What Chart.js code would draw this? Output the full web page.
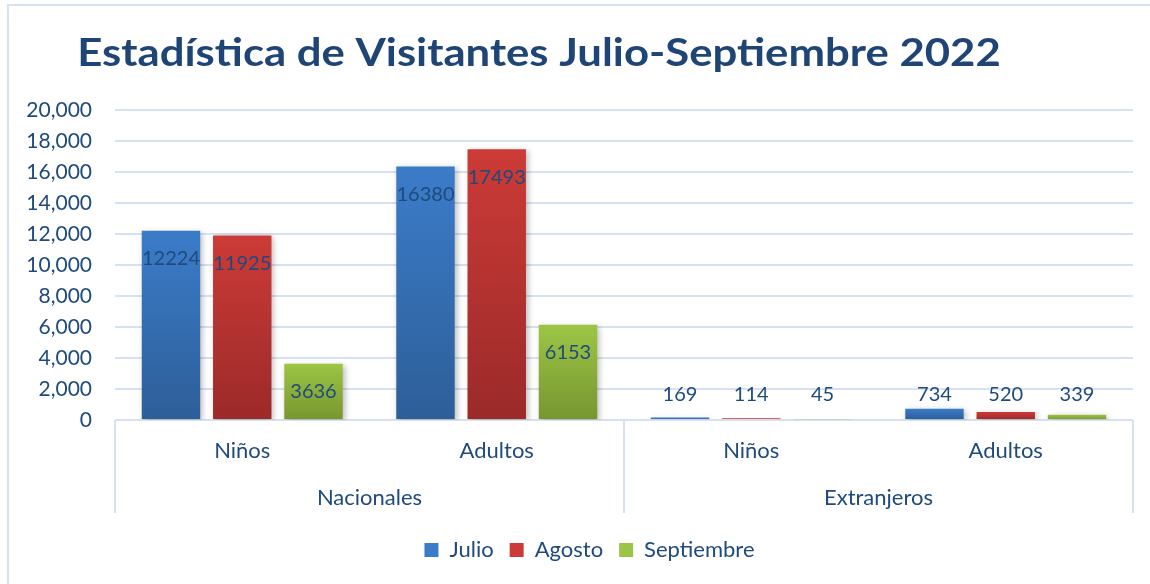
<!DOCTYPE html>
<html>
<head>
<meta charset="utf-8">
<script src="https://cdn.jsdelivr.net/npm/chart.js@4.4.1/dist/chart.umd.min.js"></script>
<style>
  html, body { margin: 0; padding: 0; background: #fff; }
  #wrap { width: 1150px; height: 584px; position: relative; }
</style>
</head>
<body>
<div id="wrap"><canvas id="visitChart" width="1150" height="584"></canvas></div>
<script>
const categories = ['Niños', 'Adultos', 'Niños', 'Adultos'];
const groups = ['Nacionales', 'Nacionales', 'Extranjeros', 'Extranjeros'];
const julio = [12224, 16380, 169, 734];
const agosto = [11925, 17493, 114, 520];
const septiembre = [3636, 6153, 45, 339];
const titleText = 'Estadística de Visitantes Julio-Septiembre 2022';

const textColor = '#1f4a7c';
const lineColor = '#d6e1f1';
const FONT = 'Lato';

// top / bottom colours of each bar gradient
const palette = {
    Julio: ['#3b7cc9', '#2d5e98'],
    Agosto: ['#cc3b37', '#9b2a29'],
    Septiembre: ['#9cc545', '#76962f']
};

function barFill(name) {
    return ctx => {
        const [top, bottom] = palette[name];
        const chart = ctx.chart;
        if (ctx.type !== 'data' || !chart.chartArea || !chart.scales.y) return top;
        const y = chart.scales.y;
        const y1 = y.getPixelForValue(ctx.raw);
        const y0 = y.getPixelForValue(0);
        if (!isFinite(y1) || !isFinite(y0) || y0 - y1 < 1) return top;
        const g = chart.ctx.createLinearGradient(0, y1, 0, y0);
        g.addColorStop(0, top);
        g.addColorStop(1, bottom);
        return g;
    };
}

const chartFrame = {
    id: 'chartFrame',
    afterLayout(chart) {
        // legend sits a little right of the chart centre, as in the original
        if (chart.legend) {
            chart.legend.left += 18;
            chart.legend.right += 18;
        }
    },
    beforeDraw(chart) {
        const c = chart.ctx;
        c.save();
        c.strokeStyle = lineColor;
        c.lineWidth = 2;
        c.beginPath();
        c.moveTo(8, 584);
        c.lineTo(8, 5);
        c.lineTo(1150, 5);
        c.stroke();
        c.restore();
    }
};

// Calibri-like title: a bit wider than Lato at the same height
const wideTitle = {
    id: 'wideTitle',
    afterDraw(chart) {
        const c = chart.ctx;
        c.save();
        c.font = 'bold 39px ' + FONT;
        c.fillStyle = '#1f4576';
        c.textAlign = 'center';
        c.textBaseline = 'middle';
        c.translate(chart.width / 2 - 36, 53);
        c.scale(1.12, 1);
        c.fillText(titleText, 0, 0);
        c.restore();
    }
};

const barShadow = {
    id: 'barShadow',
    beforeDatasetDraw(chart) {
        const c = chart.ctx;
        c.save();
        c.shadowColor = 'rgba(0,0,0,0.28)';
        c.shadowBlur = 6;
        c.shadowOffsetX = 2;
        c.shadowOffsetY = 2;
    },
    afterDatasetDraw(chart) {
        chart.ctx.restore();
    }
};

const valueLabels = {
    id: 'valueLabels',
    afterDatasetsDraw(chart) {
        const c = chart.ctx;
        const base = chart.scales.y.getPixelForValue(0);
        c.save();
        c.font = '20px ' + FONT;
        c.fillStyle = textColor;
        c.textAlign = 'center';
        c.textBaseline = 'middle';
        chart.data.datasets.forEach((ds, i) => {
            chart.getDatasetMeta(i).data.forEach((bar, j) => {
                const h = base - bar.y;
                const y = h > 50 ? bar.y + 28 : base - 25;
                c.fillText(String(ds.data[j]), bar.x, y);
            });
        });
        c.restore();
    }
};

const groupAxis = {
    id: 'groupAxis',
    afterDraw(chart) {
        const x = chart.scales.x;
        const area = chart.chartArea;
        const c = chart.ctx;
        const step = (area.right - area.left) / categories.length;
        c.save();
        c.strokeStyle = lineColor;
        c.lineWidth = 2;
        c.font = '22px ' + FONT;
        c.fillStyle = textColor;
        c.textAlign = 'center';
        c.textBaseline = 'middle';
        let start = 0;
        for (let i = 1; i <= groups.length; i++) {
            if (i === groups.length || groups[i] !== groups[start]) {
                const left = x.getPixelForValue(start) - step / 2;
                const right = x.getPixelForValue(i - 1) + step / 2;
                c.beginPath();
                c.moveTo(left, area.bottom);
                c.lineTo(left, area.bottom + 93);
                c.moveTo(right, area.bottom);
                c.lineTo(right, area.bottom + 93);
                c.stroke();
                c.fillText(groups[start], (left + right) / 2, area.bottom + 78);
                start = i;
            }
        }
        c.restore();
    }
};

new Chart(document.getElementById('visitChart'), {
    type: 'bar',
    data: {
        labels: categories,
        datasets: [
            { label: 'Julio', data: julio, backgroundColor: barFill('Julio') },
            { label: 'Agosto', data: agosto, backgroundColor: barFill('Agosto') },
            { label: 'Septiembre', data: septiembre, backgroundColor: barFill('Septiembre') }
        ]
    },
    options: {
        responsive: false,
        animation: false,
        categoryPercentage: 0.84,
        barPercentage: 0.82,
        layout: { padding: { left: 10, right: 17, top: 10, bottom: 13 } },
        plugins: {
            // keeps the space for the title; the text itself is drawn by wideTitle
            title: {
                display: true,
                text: titleText,
                color: 'rgba(0,0,0,0)',
                font: { family: FONT, size: 37, weight: 'bold', lineHeight: 1.2 },
                padding: { top: 20, bottom: 36 }
            },
            legend: {
                position: 'bottom',
                labels: {
                    color: textColor,
                    font: { family: FONT, size: 22 },
                    boxWidth: 14,
                    boxHeight: 14,
                    padding: 16,
                    generateLabels: chart => chart.data.datasets.map((ds, i) => ({
                        text: ds.label,
                        fillStyle: palette[ds.label][0],
                        strokeStyle: palette[ds.label][0],
                        lineWidth: 0,
                        fontColor: textColor,
                        datasetIndex: i
                    }))
                }
            },
            tooltip: { enabled: false }
        },
        scales: {
            x: {
                grid: { display: false, drawTicks: false },
                border: { display: false },
                ticks: { color: textColor, font: { family: FONT, size: 22 }, padding: 18, maxRotation: 0 },
                afterFit: scale => { scale.height = 103; }
            },
            y: {
                min: 0,
                max: 20000,
                grid: { color: lineColor, lineWidth: 2, drawTicks: false },
                border: { display: false },
                ticks: {
                    stepSize: 2000,
                    color: textColor,
                    font: { family: FONT, size: 21 },
                    padding: 23,
                    callback: v => v.toLocaleString('en-US')
                },
                afterFit: scale => { scale.width = 105; }
            }
        }
    },
    plugins: [chartFrame, wideTitle, barShadow, valueLabels, groupAxis]
});
</script>
</body>
</html>
